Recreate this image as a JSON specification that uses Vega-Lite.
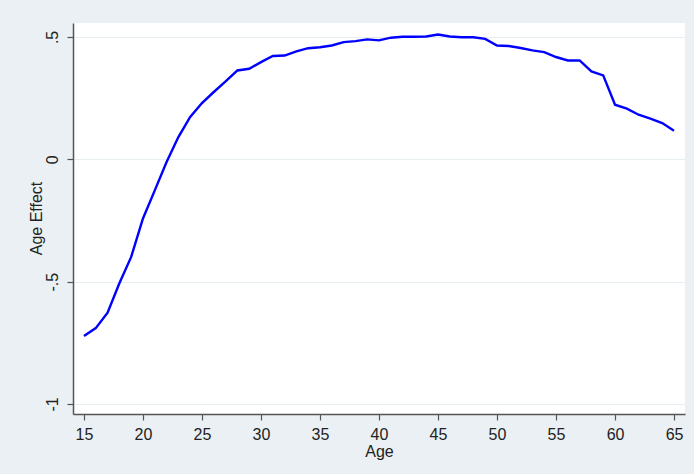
{
  "$schema": "https://vega.github.io/schema/vega-lite/v6.json",
  "width": 612,
  "height": 391,
  "autosize": {"type": "none"},
  "padding": {"left": 73, "top": 23, "right": 9, "bottom": 60},
  "background": "#eaf0f3",
  "config": {
    "view": {"fill": "white", "stroke": null},
    "font": "Liberation Sans",
    "axis": {
      "labelFont": "Liberation Sans",
      "titleFont": "Liberation Sans",
      "labelFontSize": 16,
      "titleFontSize": 16,
      "titleFontWeight": "normal",
      "labelColor": "#222",
      "titleColor": "#222",
      "domainColor": "#555",
      "tickColor": "#555",
      "domainWidth": 1.5,
      "tickWidth": 1.2,
      "tickSize": 6
    }
  },
  "data": {
    "values": [
      {"age": 15, "effect": -0.722},
      {"age": 16, "effect": -0.69},
      {"age": 17, "effect": -0.627},
      {"age": 18, "effect": -0.507},
      {"age": 19, "effect": -0.399},
      {"age": 20, "effect": -0.242},
      {"age": 21, "effect": -0.127},
      {"age": 22, "effect": -0.011},
      {"age": 23, "effect": 0.091},
      {"age": 24, "effect": 0.173},
      {"age": 25, "effect": 0.23},
      {"age": 26, "effect": 0.275},
      {"age": 27, "effect": 0.318},
      {"age": 28, "effect": 0.363},
      {"age": 29, "effect": 0.37},
      {"age": 30, "effect": 0.397},
      {"age": 31, "effect": 0.422},
      {"age": 32, "effect": 0.424},
      {"age": 33, "effect": 0.441},
      {"age": 34, "effect": 0.454},
      {"age": 35, "effect": 0.458},
      {"age": 36, "effect": 0.465},
      {"age": 37, "effect": 0.479},
      {"age": 38, "effect": 0.483},
      {"age": 39, "effect": 0.49},
      {"age": 40, "effect": 0.486},
      {"age": 41, "effect": 0.497},
      {"age": 42, "effect": 0.501},
      {"age": 43, "effect": 0.501},
      {"age": 44, "effect": 0.502},
      {"age": 45, "effect": 0.51},
      {"age": 46, "effect": 0.502},
      {"age": 47, "effect": 0.499},
      {"age": 48, "effect": 0.499},
      {"age": 49, "effect": 0.492},
      {"age": 50, "effect": 0.465},
      {"age": 51, "effect": 0.463},
      {"age": 52, "effect": 0.455},
      {"age": 53, "effect": 0.445},
      {"age": 54, "effect": 0.438},
      {"age": 55, "effect": 0.418},
      {"age": 56, "effect": 0.404},
      {"age": 57, "effect": 0.404},
      {"age": 58, "effect": 0.359},
      {"age": 59, "effect": 0.343},
      {"age": 60, "effect": 0.223},
      {"age": 61, "effect": 0.207},
      {"age": 62, "effect": 0.182},
      {"age": 63, "effect": 0.166},
      {"age": 64, "effect": 0.148},
      {"age": 65, "effect": 0.117}
    ]
  },
  "mark": {"type": "line", "color": "#0000ff", "strokeWidth": 2.4},
  "encoding": {
    "x": {
      "field": "age",
      "type": "quantitative",
      "title": "Age",
      "scale": {"domain": [14.07, 65.93], "nice": false, "zero": false},
      "axis": {
        "values": [15, 20, 25, 30, 35, 40, 45, 50, 55, 60, 65],
        "grid": false,
        "labelPadding": 6,
        "titlePadding": 1,
        "labelFlush": false
      }
    },
    "y": {
      "field": "effect",
      "type": "quantitative",
      "title": "Age Effect",
      "scale": {"domain": [-1.041, 0.557], "nice": false, "zero": false},
      "axis": {
        "values": [-1, -0.5, 0, 0.5],
        "labelExpr": "datum.value == 0.5 ? '.5' : datum.value == -0.5 ? '-.5' : datum.value == 0 ? '0' : '-1'",
        "labelAngle": -90,
        "labelAlign": "center",
        "labelBaseline": "bottom",
        "labelPadding": 7,
        "labelFlush": false,
        "grid": true,
        "gridColor": "#e6eef1",
        "gridWidth": 1.2,
        "titleAngle": -90,
        "titleX": -37,
        "titleY": 195,
        "titleAlign": "center",
        "titleBaseline": "middle"
      }
    }
  }
}
